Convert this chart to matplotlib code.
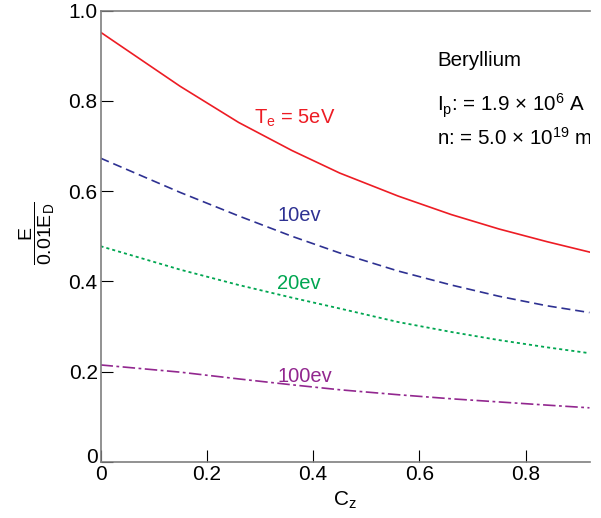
import matplotlib
matplotlib.use("Agg")
import matplotlib.pyplot as plt
import matplotlib.transforms as mtransforms
from matplotlib.ticker import FixedLocator, FixedFormatter

plt.rcParams['font.family'] = ['Liberation Sans', 'DejaVu Sans']
plt.rcParams['mathtext.fontset'] = 'custom'
plt.rcParams['mathtext.rm'] = 'Liberation Sans'
plt.rcParams['mathtext.it'] = 'Liberation Sans:italic'
plt.rcParams['mathtext.bf'] = 'Liberation Sans:bold'
plt.rcParams['lines.scale_dashes'] = False

# values
cz = [0, 0.15, 0.26, 0.36, 0.45, 0.56, 0.66, 0.75, 0.84, 0.92]
e_5ev = [0.952, 0.832, 0.752, 0.690, 0.640, 0.589, 0.548, 0.516, 0.488, 0.465]
e_10ev = [0.673, 0.597, 0.545, 0.500, 0.463, 0.423, 0.392, 0.367, 0.346, 0.331]
e_20ev = [0.478, 0.426, 0.392, 0.364, 0.340, 0.310, 0.288, 0.270, 0.254, 0.241]
e_100ev = [0.215, 0.199, 0.184, 0.171, 0.160, 0.149, 0.140, 0.133, 0.126, 0.120]

xticks = [0, 0.2, 0.4, 0.6, 0.8]
xticklabels = ['0', '0.2', '0.4', '0.6', '0.8']
yticks = [0, 0.2, 0.4, 0.6, 0.8, 1.0]
yticklabels = ['0', '0.2', '0.4', '0.6', '0.8', '1.0']

red = '#ed1c24'
blue = '#2e3192'
green = '#00a651'
purple = '#92278f'

fig = plt.figure(figsize=(6.01, 5.18), dpi=100)
ax = fig.add_axes([100.5 / 601, 56 / 518, (590 - 100.5) / 601, (462 - 10.5) / 518])

ax.plot(cz, e_5ev, color=red, lw=1.2)
ax.plot(cz, e_10ev, color=blue, lw=1.2, dashes=(6.5, 3.5))
ax.plot(cz, e_20ev, color=green, lw=1.3, dashes=(2.2, 2.2))
ax.plot(cz, e_100ev, color=purple, lw=1.2, dashes=(9, 2.5, 2, 2.5))

ax.set_xlim(0, 0.921)
ax.set_ylim(0, 1.0)

for side in ['left', 'bottom', 'top']:
    ax.spines[side].set_color('#7f7f7f')
    ax.spines[side].set_linewidth(1.2)
ax.spines['right'].set_visible(False)

ax.xaxis.set_major_locator(FixedLocator(xticks))
ax.xaxis.set_major_formatter(FixedFormatter(xticklabels))
ax.yaxis.set_major_locator(FixedLocator(yticks))
ax.yaxis.set_major_formatter(FixedFormatter(yticklabels))
ax.tick_params(direction='in', length=8.5, width=0.8, color='black',
               labelsize=15, pad=2.5)
ax.tick_params(axis='y', pad=2)

# lift the y "0" a little so it clears the x "0"
lab0 = ax.yaxis.get_major_ticks()[0].label1
lab0.set_transform(lab0.get_transform() +
                   mtransforms.ScaledTranslation(0, 5 / 72, fig.dpi_scale_trans))

# curve labels
ax.text(0.288, 0.749, r'T$_\mathrm{e}$ = 5eV', color=red, fontsize=14.5, va='baseline')
ax.text(0.333, 0.534, '10ev', color=blue, fontsize=14.5, va='baseline')
ax.text(0.333, 0.383, '20ev', color=green, fontsize=14.5, va='baseline')
ax.text(0.333, 0.178, '100ev', color=purple, fontsize=14.5, va='baseline')

# parameter block (last line runs off the right edge)
ax.text(0.633, 0.877, 'Beryllium', fontsize=14.8, va='baseline')
ax.text(0.633, 0.777, r'I$_\mathrm{p}$: = 1.9 × 10$^\mathrm{6}$ A', fontsize=14.8, va='baseline')
ax.text(0.633, 0.702, r'n: = 5.0 × 10$^\mathrm{19}$ m$^\mathrm{-3}$', fontsize=14.8,
        va='baseline', clip_on=True)

ax.set_xlabel(r'C$_\mathrm{z}$', fontsize=15, labelpad=4)
fig.text(37 / 601, 1 - 233 / 518, r'$\dfrac{\mathrm{E}}{\mathrm{0.01E}_\mathrm{D}}$',
         fontsize=14, rotation=90, ha='center', va='center')

fig.savefig('out.png', dpi=100)
